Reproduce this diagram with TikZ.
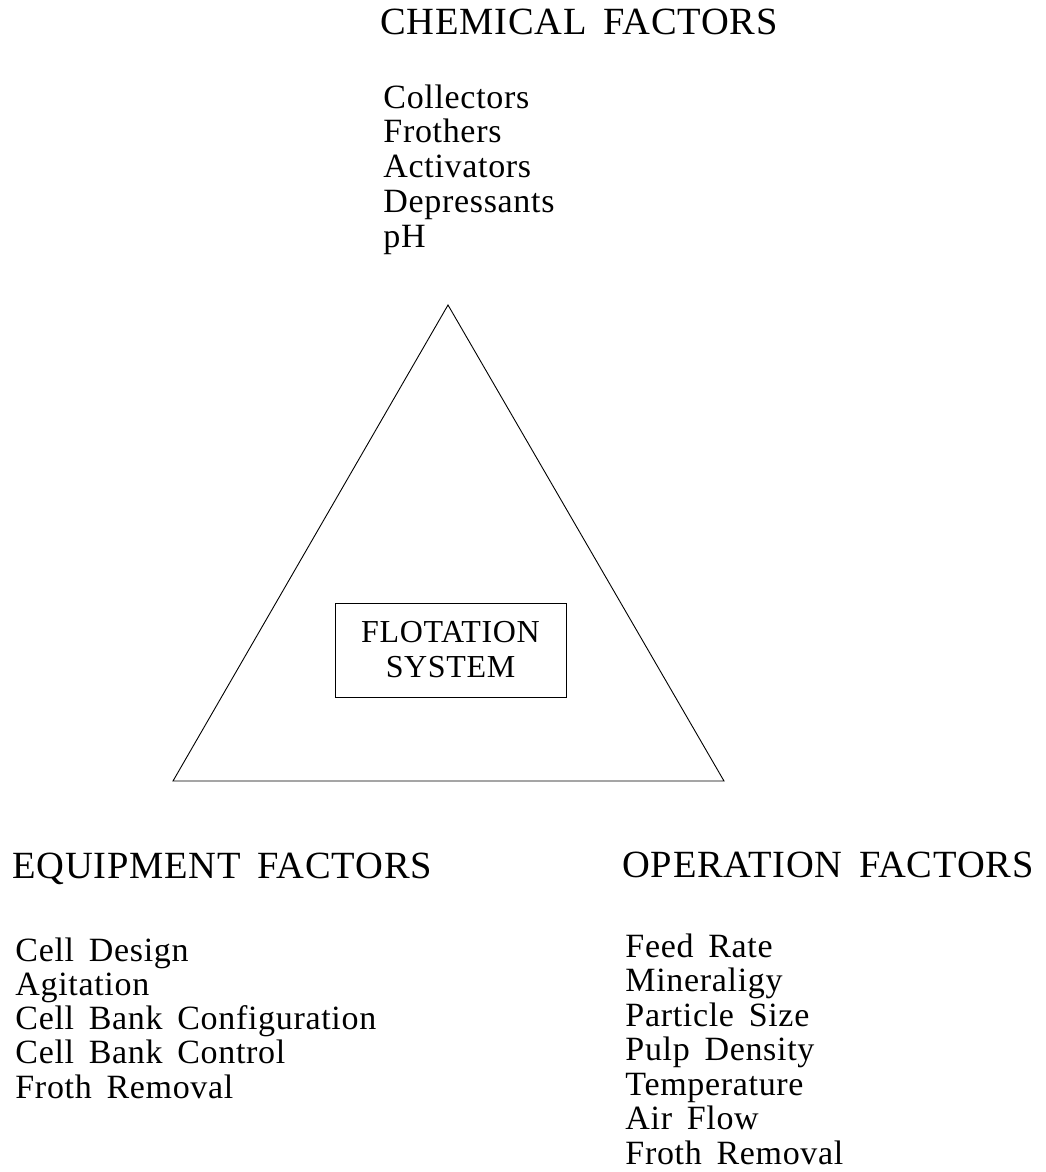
\documentclass[tikz,border=0pt]{standalone}
\usepackage{fontspec}
\setmainfont[LetterSpace=2,WordSpace=1.6]{Liberation Serif}
\begin{document}
\begin{tikzpicture}[x=1pt,y=-1pt,line width=.9pt,
 head/.style={anchor=base west,inner sep=0,font=\fontsize{38.5}{40}\selectfont},
 item/.style={anchor=base west,inner sep=0,font=\fontsize{34}{36}\selectfont}]
\useasboundingbox (0,0) rectangle (1046,1172);
\node[head] (chemhead) at (380,35){CHEMICAL FACTORS};
\foreach \i/\t in {0/Collectors,1/Frothers,2/Activators,3/Depressants,4/pH}{\node[item] (chem\i) at (383,108+34.75*\i){\t};}
\coordinate (apex) at (448,305); \coordinate (left) at (173,781); \coordinate (right) at (724,781);
\draw (apex) -- (left) -- (right) -- cycle;
\node[draw,inner sep=0,minimum width=231,minimum height=94,align=center,font=\fontsize{32}{35}\selectfont] (flot) at (450.5,650){FLOTATION\\SYSTEM};
\node[head] (equiphead) at (12,878){EQUIPMENT FACTORS};
\foreach \i/\t in {0/Cell Design,1/Agitation,2/Cell Bank Configuration,3/Cell Bank Control,4/Froth Removal}{\node[item] (equip\i) at (15,961+34.3*\i){\t};}
\node[head] (ophead) at (622,877){OPERATION FACTORS};
\foreach \i/\t in {0/Feed Rate,1/Mineraligy,2/Particle Size,3/Pulp Density,4/Temperature,5/Air Flow,6/Froth Removal}{\node[item] (op\i) at (625,957+34.5*\i){\t};}
\end{tikzpicture}
\end{document}
